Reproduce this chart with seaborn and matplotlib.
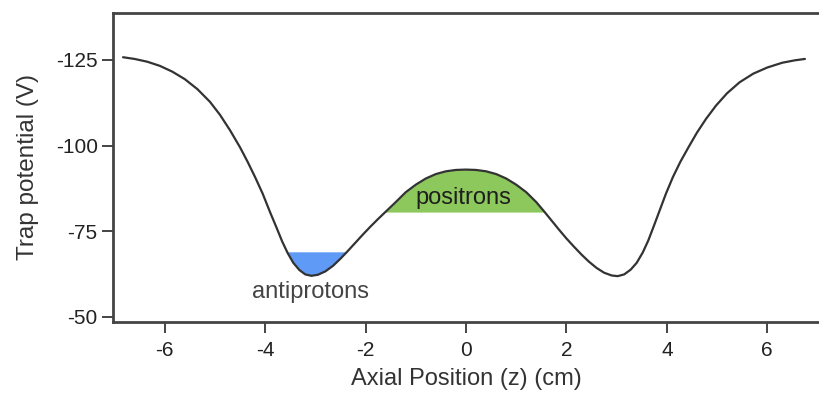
import matplotlib
matplotlib.use("Agg")
import matplotlib.pyplot as plt
import seaborn as sns
import numpy as np
import pandas as pd

# Axial position (cm) and trap potential (V)
z = [-6.83, -6.60, -6.35, -6.10, -5.85, -5.60, -5.35, -5.10, -4.90, -4.70,
     -4.50, -4.35, -4.20, -4.05, -3.90, -3.78, -3.66, -3.55, -3.44, -3.32,
     -3.20, -3.08, -2.95, -2.80, -2.65, -2.50, -2.35, -2.20, -2.05, -1.90,
     -1.75, -1.60, -1.40, -1.20, -1.00, -0.80, -0.60, -0.40, -0.20, 0.00,
     0.20, 0.40, 0.60, 0.80, 1.00, 1.20, 1.40, 1.55, 1.70, 1.85,
     2.00, 2.15, 2.30, 2.45, 2.60, 2.75, 2.90, 3.02, 3.15, 3.28,
     3.40, 3.52, 3.63, 3.74, 3.86, 3.98, 4.12, 4.27, 4.43, 4.60,
     4.78, 4.98, 5.20, 5.45, 5.72, 6.00, 6.30, 6.55, 6.75]
V = [-125.8, -125.3, -124.5, -123.3, -121.6, -119.4, -116.5, -112.8, -109.0, -104.5,
     -99.5, -95.3, -90.8, -86.0, -80.5, -76.3, -72.0, -68.6, -65.8, -63.7,
     -62.4, -62.0, -62.3, -63.3, -64.9, -67.0, -69.3, -71.7, -74.1, -76.4,
     -78.6, -80.7, -83.5, -86.4, -88.6, -90.4, -91.7, -92.5, -92.9, -93.0,
     -92.9, -92.5, -91.7, -90.4, -88.6, -86.4, -83.5, -80.9, -78.2, -75.5,
     -72.9, -70.5, -68.2, -66.1, -64.3, -62.9, -62.1, -61.9, -62.4, -63.8,
     -65.8, -68.8, -72.3, -76.5, -81.2, -85.9, -90.8, -95.3, -99.5, -103.8,
     -107.8, -111.7, -115.3, -118.5, -121.0, -122.8, -124.2, -124.9, -125.3]

antiproton_level = -69.0
positron_level = -80.6

yticks = [-125, -100, -75, -50]
xticks = [-6, -4, -2, 0, 2, 4, 6]

df = pd.DataFrame({"z": z, "V": V})

sns.set_theme(style="white")
plt.rcParams["font.family"] = ["Liberation Sans", "DejaVu Sans"]

fig = plt.figure(figsize=(8.2, 3.99), dpi=100)
ax = fig.add_axes([113/820, 1 - 321.7/399, (820 - 113)/820, (321.7 - 12.7)/399])

za = np.array(z)
Va = np.array(V)
ax.fill_between(za, Va, antiproton_level,
                where=(Va >= antiproton_level) & (za < -1),
                interpolate=True, color="#5f9af7", linewidth=0, zorder=1)
ax.fill_between(za, Va, positron_level,
                where=(Va <= positron_level) & (np.abs(za) < 2.5),
                interpolate=True, color="#8cc85c", linewidth=0, zorder=1)

sns.lineplot(data=df, x="z", y="V", ax=ax, color="#333333", linewidth=1.6,
             sort=False, zorder=2)

ax.set_xlim(-7.03, 7.05)
ax.set_ylim(-48.6, -138.8)
ax.set_xticks(xticks)
ax.set_yticks(yticks)
ax.set_xticklabels([str(t) for t in xticks])
ax.set_yticklabels([str(t) for t in yticks])

ax.tick_params(axis="both", which="major", direction="out", length=8, width=1.4,
               color="#444444", labelsize=15, labelcolor="#222222",
               bottom=True, left=True)
ax.tick_params(axis="x", pad=6)
ax.tick_params(axis="y", pad=3)
for side in ["left", "bottom", "top"]:
    ax.spines[side].set_color("#444444")
    ax.spines[side].set_linewidth(2)
ax.spines["right"].set_visible(False)

ax.set_xlabel("Axial Position (z) (cm)", fontsize=17, color="#333333", labelpad=6)
ax.set_ylabel("Trap potential (V)", fontsize=17.5, color="#333333", labelpad=12)

ax.text(-3.10, -55.5, "antiprotons", ha="center", va="baseline", fontsize=17,
        color="#444444")
ax.text(-0.06, -83.0, "positrons", ha="center", va="baseline", fontsize=17,
        color="#1e1e1e")

fig.savefig("out.png", dpi=100)
